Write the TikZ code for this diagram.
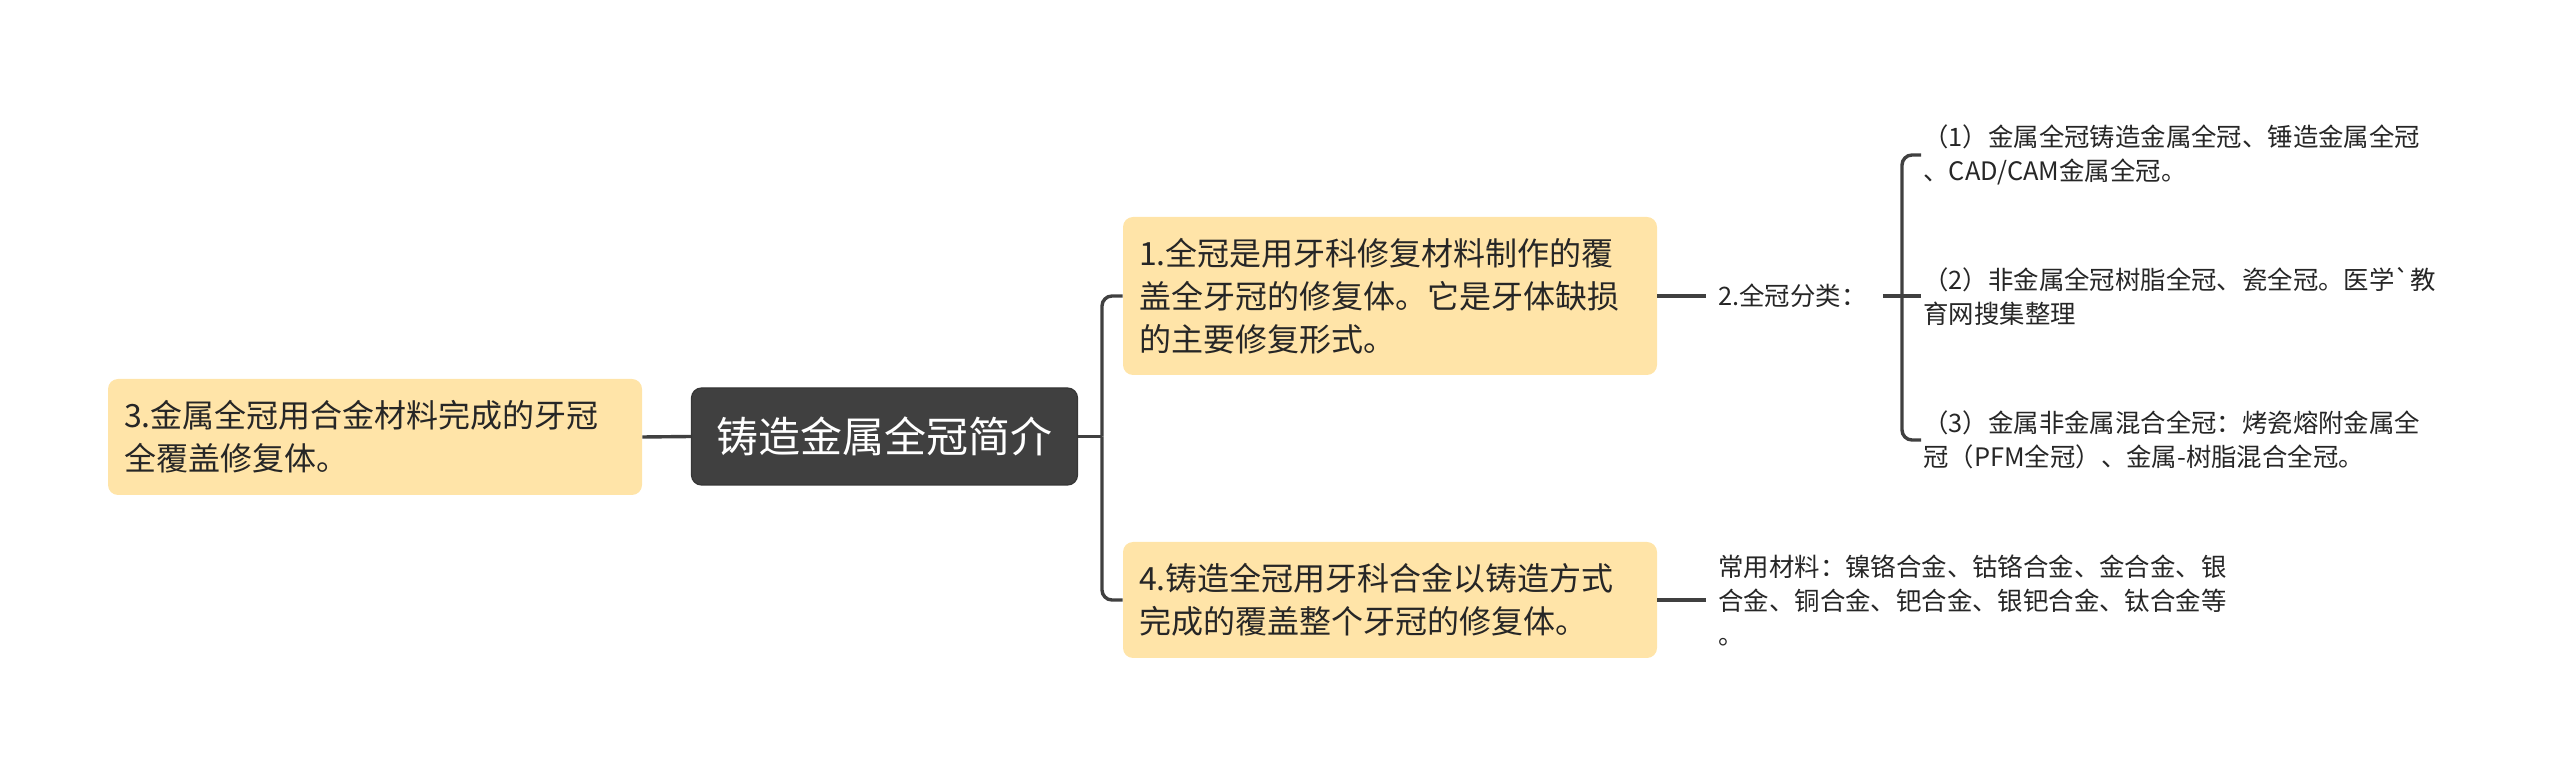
\documentclass[tikz,border=0pt]{standalone}
\usepackage{fontspec}
\setmainfont{Noto Sans CJK SC}
\newfontfamily\plaincjk{Noto Sans CJK SC}
\begin{document}
\begin{tikzpicture}[x=0.5pt,y=-0.5pt,
  conn/.style={draw=black!75, line width=1.7pt, rounded corners=5pt},
  topic/.style={fill=yellowbox, rounded corners=5pt, inner xsep=8pt, inner ysep=0pt,
    text width=251pt, align=left, font=\fontsize{16pt}{21.5pt}\selectfont, text=black!85},
  rootbox/.style={fill=rootgrey, draw=rootgrey!85!black, line width=0.6pt, rounded corners=5pt,
    minimum width=193pt, minimum height=48.5pt, inner sep=0pt,
    font=\fontsize{21pt}{25pt}\selectfont, text=white},
  leaf/.style={inner xsep=1pt, inner ysep=0pt, align=left,
    font=\fontsize{12.7pt}{17pt}\selectfont, text=black!85}
]
\definecolor{yellowbox}{HTML}{FFE4A8}
\definecolor{rootgrey}{HTML}{404040}
\useasboundingbox (0,0) rectangle (2560,769);

\node[rootbox] (root) at (884.5,436.5) {铸造金属全冠简介};

\node[topic, minimum height=58pt] (n3) at (375,437) {3.金属全冠用合金材料完成的牙冠\\全覆盖修复体。};
\node[topic, minimum height=79pt] (n1) at (1390,296) {1.全冠是用牙科修复材料制作的覆\\盖全牙冠的修复体。它是牙体缺损\\的主要修复形式。};
\node[topic, minimum height=58pt] (n4) at (1390,600) {4.铸造全冠用牙科合金以铸造方式\\完成的覆盖整个牙冠的修复体。};

\node[leaf, anchor=west, inner xsep=6pt] (n2) at (1706,296) {2.全冠分类：};
\node[leaf, anchor=west] (c1) at (1921,155) {（1）金属全冠铸造金属全冠、锤造金属全冠\\、CAD/CAM金属全冠。};
\node[leaf, anchor=west] (c2) at (1921,296) {（2）非金属全冠树脂全冠、瓷全冠。医学{\plaincjk `}教\\育网搜集整理};
\node[leaf, anchor=west] (c3) at (1921,440) {（3）金属非金属混合全冠：烤瓷熔附金属全\\冠（PFM全冠）、金属-树脂混合全冠。};
\node[leaf, anchor=west, inner xsep=6pt] (m1) at (1706,600) {常用材料：镍铬合金、钴铬合金、金合金、银\\合金、铜合金、钯合金、银钯合金、钛合金等\\。};

\coordinate (tr) at (1102,436.5);
\coordinate (br) at (1902,296);

\draw[conn] (n3.east) -- (root.west);
\draw[conn] (root.east) -- (tr);
\draw[conn] (tr) |- (n1.west);
\draw[conn] (tr) |- (n4.west);
\draw[conn] (n1.east) -- (n2.west);
\draw[conn] (n4.east) -- (m1.west);
\draw[conn] (n2.east) ++(4,0) -- (br);
\draw[conn] (br) |- (c1.west);
\draw[conn] (br) -- (c2.west);
\draw[conn] (br) |- (c3.west);
\end{tikzpicture}
\end{document}
